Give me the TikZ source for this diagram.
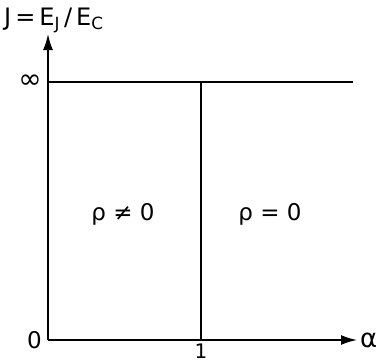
\documentclass[tikz,border=0pt]{standalone}
\usepackage{fontspec}
\setmainfont{DejaVu Sans}
\usetikzlibrary{arrows.meta, positioning}

\begin{document}
\begin{tikzpicture}[x=1pt, y=-1pt,
    every node/.style={font=\fontsize{23}{26}\selectfont, inner sep=2pt},
    axis/.style={line width=1.8pt, -{Latex[length=16pt, width=10pt]}},
    border/.style={line width=1.6pt}
]
\useasboundingbox (0,0) rectangle (378,364);
% --- ejes ---
\coordinate (o) at (48,340);
\coordinate (ytip) at (48,34);
\coordinate (xtip) at (357,340);
\coordinate (inf) at (48,82);
\coordinate (infend) at (353,82);
\coordinate (m1) at (201,82);
\coordinate (m0) at (201,340);

\draw[axis] (o) -- (ytip);
\draw[axis] (o) -- (xtip);

% --- limites de fase ---
\draw[border] (inf) -- (infend);
\draw[border] (m1) -- (m0);

% --- etiquetas ---
\node[anchor=south west, inner sep=0pt, font=\fontsize{24}{26}\selectfont] (title) at (4,33)
    {J\,=\,E\textsubscript{J}\,/\,E\textsubscript{C}};
\node[left=4pt of o] (zero) {0};
\node[left=4pt of inf, font=\fontsize{28}{30}\selectfont] (infty) {∞};
\node[right=1pt of xtip, font=\fontsize{26}{28}\selectfont] (alpha) {α};
\node[anchor=north, inner sep=0pt, font=\fontsize{20}{22}\selectfont] (one) at (201,344) {1};

\node (rhoA) at (123,214) {ρ ≠ 0};
\node (rhoB) at (270,214) {ρ = 0};
\end{tikzpicture}
\end{document}
